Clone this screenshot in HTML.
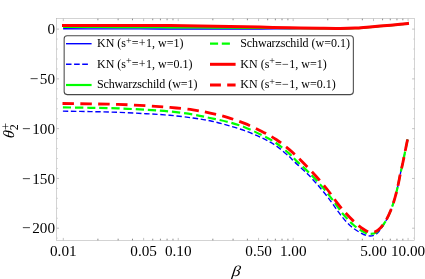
<!DOCTYPE html>
<html><head><meta charset="utf-8"><title>plot</title><style>html,body{margin:0;padding:0;background:#fff}body{width:425px;height:279px;overflow:hidden;font-family:"Liberation Serif",serif}</style></head><body>
<svg width="425" height="279" viewBox="0 0 425 279" style="display:block;will-change:transform;opacity:0.999">
<rect width="425" height="279" fill="#fff"/>
<g fill="none" stroke-linecap="butt" stroke-linejoin="round">
<path d="M63.10 28.80 C69.25 28.81 87.18 28.83 100.00 28.85 C112.82 28.87 128.33 28.88 140.00 28.90 C151.67 28.92 160.00 28.93 170.00 28.95 C180.00 28.97 190.00 28.99 200.00 29.00 C210.00 29.01 220.00 29.00 230.00 29.00 C240.00 29.00 250.00 29.05 260.00 29.00 C270.00 28.95 280.00 28.77 290.00 28.70 C300.00 28.63 311.67 28.60 320.00 28.60 C328.33 28.60 334.17 28.75 340.00 28.70 C345.83 28.65 350.50 28.52 355.00 28.30 C359.50 28.08 362.83 27.73 367.00 27.40 C371.17 27.07 376.07 26.64 380.00 26.30 C383.93 25.96 387.27 25.66 390.60 25.35 C393.93 25.04 397.05 24.75 400.00 24.45 C402.95 24.15 406.92 23.70 408.30 23.55" stroke="#0000ff" stroke-width="1.4"/>
<path d="M62.90 111.10 C67.42 111.18 80.82 111.40 90.00 111.60 C99.18 111.80 108.67 111.95 118.00 112.30 C127.33 112.65 137.33 113.20 146.00 113.70 C154.67 114.20 162.17 114.58 170.00 115.30 C177.83 116.02 186.33 117.08 193.00 118.00 C199.67 118.92 204.33 119.62 210.00 120.80 C215.67 121.98 221.23 123.47 227.00 125.10 C232.77 126.73 238.77 128.45 244.60 130.60 C250.43 132.75 256.77 135.47 262.00 138.00 C267.23 140.53 271.50 142.75 276.00 145.80 C280.50 148.85 285.95 153.67 289.00 156.30 C292.05 158.93 291.02 158.47 294.30 161.60 C297.58 164.73 304.17 170.47 308.70 175.10 C313.23 179.73 317.68 184.87 321.50 189.40 C325.32 193.93 328.48 198.13 331.60 202.30 C334.72 206.47 337.13 210.53 340.20 214.40 C343.27 218.27 346.70 222.48 350.00 225.50 C353.30 228.52 356.83 230.77 360.00 232.50 C363.17 234.23 366.17 235.73 369.00 235.90 C371.83 236.07 374.33 235.73 377.00 233.50 C379.67 231.27 382.68 226.38 385.00 222.50 C387.32 218.62 389.23 214.35 390.90 210.20 C392.57 206.05 393.83 201.63 395.00 197.60 C396.17 193.57 397.03 189.85 397.90 186.00 C398.77 182.15 399.38 178.33 400.20 174.50 C401.02 170.67 401.98 166.83 402.80 163.00 C403.62 159.17 404.30 155.45 405.10 151.50 C405.90 147.55 407.18 141.33 407.60 139.30" stroke="#0000ff" stroke-width="1.4" stroke-dasharray="5.4 2.72"/>
<path d="M63.10 27.00 C69.25 27.00 87.18 26.98 100.00 27.00 C112.82 27.02 128.33 27.05 140.00 27.10 C151.67 27.15 160.00 27.23 170.00 27.30 C180.00 27.37 190.00 27.43 200.00 27.50 C210.00 27.57 220.00 27.63 230.00 27.70 C240.00 27.77 250.00 27.83 260.00 27.90 C270.00 27.97 280.00 28.02 290.00 28.10 C300.00 28.18 311.67 28.32 320.00 28.40 C328.33 28.48 334.17 28.63 340.00 28.60 C345.83 28.57 350.50 28.42 355.00 28.20 C359.50 27.98 362.83 27.63 367.00 27.30 C371.17 26.97 376.07 26.53 380.00 26.20 C383.93 25.87 387.27 25.60 390.60 25.30 C393.93 25.00 397.05 24.70 400.00 24.40 C402.95 24.10 406.92 23.65 408.30 23.50" stroke="#00ff00" stroke-width="2.2"/>
<path d="M62.90 107.40 C67.42 107.47 80.82 107.63 90.00 107.80 C99.18 107.97 108.67 108.07 118.00 108.40 C127.33 108.73 137.33 109.28 146.00 109.80 C154.67 110.32 162.17 110.72 170.00 111.50 C177.83 112.28 186.33 113.42 193.00 114.50 C199.67 115.58 204.33 116.80 210.00 118.00 C215.67 119.20 221.23 120.17 227.00 121.70 C232.77 123.23 238.77 124.95 244.60 127.20 C250.43 129.45 256.77 132.57 262.00 135.20 C267.23 137.83 271.50 139.97 276.00 143.00 C280.50 146.03 285.47 150.30 289.00 153.40 C292.53 156.50 293.45 157.98 297.20 161.60 C300.95 165.22 306.97 170.47 311.50 175.10 C316.03 179.73 320.58 184.87 324.40 189.40 C328.22 193.93 331.30 198.20 334.40 202.30 C337.50 206.40 339.90 210.30 343.00 214.00 C346.10 217.70 349.83 221.67 353.00 224.50 C356.17 227.33 359.25 229.43 362.00 231.00 C364.75 232.57 367.00 233.77 369.50 233.90 C372.00 234.03 374.38 233.82 377.00 231.80 C379.62 229.78 382.88 225.43 385.20 221.80 C387.52 218.17 389.27 214.03 390.90 210.00 C392.53 205.97 393.83 201.60 395.00 197.60 C396.17 193.60 397.03 189.85 397.90 186.00 C398.77 182.15 399.38 178.33 400.20 174.50 C401.02 170.67 401.98 166.83 402.80 163.00 C403.62 159.17 404.30 155.45 405.10 151.50 C405.90 147.55 407.18 141.33 407.60 139.30" stroke="#00ff00" stroke-width="2.2" stroke-dasharray="8.28 3.847"/>
<path d="M62.00 25.50 C68.33 25.48 87.00 25.42 100.00 25.40 C113.00 25.38 128.33 25.37 140.00 25.40 C151.67 25.43 160.00 25.50 170.00 25.60 C180.00 25.70 190.00 25.85 200.00 26.00 C210.00 26.15 220.00 26.32 230.00 26.50 C240.00 26.68 250.00 26.88 260.00 27.10 C270.00 27.32 280.00 27.60 290.00 27.80 C300.00 28.00 311.67 28.18 320.00 28.30 C328.33 28.42 334.17 28.53 340.00 28.50 C345.83 28.47 350.50 28.32 355.00 28.10 C359.50 27.88 362.83 27.53 367.00 27.20 C371.17 26.87 376.07 26.43 380.00 26.10 C383.93 25.78 387.27 25.54 390.60 25.25 C393.93 24.96 396.93 24.68 400.00 24.35 C403.07 24.03 407.50 23.48 409.00 23.30" stroke="#ff0000" stroke-width="3.0"/>
<path d="M62.50 103.50 C67.08 103.57 80.75 103.75 90.00 103.90 C99.25 104.05 108.67 104.10 118.00 104.40 C127.33 104.70 137.33 105.20 146.00 105.70 C154.67 106.20 162.17 106.70 170.00 107.40 C177.83 108.10 186.30 108.95 193.00 109.90 C199.70 110.85 204.47 111.85 210.20 113.10 C215.93 114.35 221.67 115.68 227.40 117.40 C233.13 119.12 238.85 121.07 244.60 123.40 C250.35 125.73 256.63 128.72 261.90 131.40 C267.17 134.08 271.67 136.50 276.20 139.50 C280.73 142.50 284.88 145.82 289.10 149.40 C293.32 152.98 297.05 156.57 301.50 161.00 C305.95 165.43 311.50 171.25 315.80 176.00 C320.10 180.75 323.93 185.28 327.30 189.50 C330.67 193.72 333.05 197.50 336.00 201.30 C338.95 205.10 341.83 208.77 345.00 212.30 C348.17 215.83 351.88 219.67 355.00 222.50 C358.12 225.33 361.07 227.63 363.70 229.30 C366.33 230.97 368.42 232.35 370.80 232.50 C373.18 232.65 375.60 232.02 378.00 230.20 C380.40 228.38 383.05 224.97 385.20 221.60 C387.35 218.23 389.27 214.00 390.90 210.00 C392.53 206.00 393.83 201.60 395.00 197.60 C396.17 193.60 397.03 189.85 397.90 186.00 C398.77 182.15 399.38 178.33 400.20 174.50 C401.02 170.67 401.98 166.83 402.80 163.00 C403.62 159.17 404.30 155.45 405.10 151.50 C405.90 147.55 407.18 141.33 407.60 139.30" stroke="#ff0000" stroke-width="2.8" stroke-dasharray="11.5 6.35"/>
</g>
<rect x="56.6" y="18.7" width="357.9" height="221.6" fill="none" stroke="#b0b0b0" stroke-width="0.55"/>
<path d="M63.30 240.3 v-2.4 M63.30 18.7 v2.4" stroke="#999" stroke-width="0.6"/>
<path d="M97.90 240.3 v-1.6 M97.90 18.7 v1.6" stroke="#4c4c4c" stroke-width="0.65"/>
<path d="M118.14 240.3 v-1.6 M118.14 18.7 v1.6" stroke="#4c4c4c" stroke-width="0.65"/>
<path d="M132.49 240.3 v-1.6 M132.49 18.7 v1.6" stroke="#4c4c4c" stroke-width="0.65"/>
<path d="M143.63 240.3 v-2.4 M143.63 18.7 v2.4" stroke="#999" stroke-width="0.6"/>
<path d="M152.73 240.3 v-1.6 M152.73 18.7 v1.6" stroke="#4c4c4c" stroke-width="0.65"/>
<path d="M160.43 240.3 v-1.6 M160.43 18.7 v1.6" stroke="#4c4c4c" stroke-width="0.65"/>
<path d="M167.09 240.3 v-1.6 M167.09 18.7 v1.6" stroke="#4c4c4c" stroke-width="0.65"/>
<path d="M172.97 240.3 v-1.6 M172.97 18.7 v1.6" stroke="#4c4c4c" stroke-width="0.65"/>
<path d="M178.23 240.3 v-2.4 M178.23 18.7 v2.4" stroke="#999" stroke-width="0.6"/>
<path d="M212.83 240.3 v-1.6 M212.83 18.7 v1.6" stroke="#4c4c4c" stroke-width="0.65"/>
<path d="M233.07 240.3 v-1.6 M233.07 18.7 v1.6" stroke="#4c4c4c" stroke-width="0.65"/>
<path d="M247.42 240.3 v-1.6 M247.42 18.7 v1.6" stroke="#4c4c4c" stroke-width="0.65"/>
<path d="M258.56 240.3 v-2.4 M258.56 18.7 v2.4" stroke="#999" stroke-width="0.6"/>
<path d="M267.66 240.3 v-1.6 M267.66 18.7 v1.6" stroke="#4c4c4c" stroke-width="0.65"/>
<path d="M275.36 240.3 v-1.6 M275.36 18.7 v1.6" stroke="#4c4c4c" stroke-width="0.65"/>
<path d="M282.02 240.3 v-1.6 M282.02 18.7 v1.6" stroke="#4c4c4c" stroke-width="0.65"/>
<path d="M287.90 240.3 v-1.6 M287.90 18.7 v1.6" stroke="#4c4c4c" stroke-width="0.65"/>
<path d="M293.16 240.3 v-2.4 M293.16 18.7 v2.4" stroke="#999" stroke-width="0.6"/>
<path d="M327.76 240.3 v-1.6 M327.76 18.7 v1.6" stroke="#4c4c4c" stroke-width="0.65"/>
<path d="M348.00 240.3 v-1.6 M348.00 18.7 v1.6" stroke="#4c4c4c" stroke-width="0.65"/>
<path d="M362.35 240.3 v-1.6 M362.35 18.7 v1.6" stroke="#4c4c4c" stroke-width="0.65"/>
<path d="M373.49 240.3 v-2.4 M373.49 18.7 v2.4" stroke="#999" stroke-width="0.6"/>
<path d="M382.59 240.3 v-1.6 M382.59 18.7 v1.6" stroke="#4c4c4c" stroke-width="0.65"/>
<path d="M390.29 240.3 v-1.6 M390.29 18.7 v1.6" stroke="#4c4c4c" stroke-width="0.65"/>
<path d="M396.95 240.3 v-1.6 M396.95 18.7 v1.6" stroke="#4c4c4c" stroke-width="0.65"/>
<path d="M402.83 240.3 v-1.6 M402.83 18.7 v1.6" stroke="#4c4c4c" stroke-width="0.65"/>
<path d="M408.09 240.3 v-2.4 M408.09 18.7 v2.4" stroke="#999" stroke-width="0.6"/>
<path d="M56.6 238.16 h1.3 M414.5 238.16 h-1.3" stroke="#bbb" stroke-width="0.6"/>
<path d="M56.6 228.20 h2.4 M414.5 228.20 h-2.4" stroke="#999" stroke-width="0.6"/>
<path d="M56.6 218.25 h1.3 M414.5 218.25 h-1.3" stroke="#bbb" stroke-width="0.6"/>
<path d="M56.6 208.29 h1.3 M414.5 208.29 h-1.3" stroke="#bbb" stroke-width="0.6"/>
<path d="M56.6 198.34 h1.3 M414.5 198.34 h-1.3" stroke="#bbb" stroke-width="0.6"/>
<path d="M56.6 188.38 h1.3 M414.5 188.38 h-1.3" stroke="#bbb" stroke-width="0.6"/>
<path d="M56.6 178.43 h2.4 M414.5 178.43 h-2.4" stroke="#999" stroke-width="0.6"/>
<path d="M56.6 168.47 h1.3 M414.5 168.47 h-1.3" stroke="#bbb" stroke-width="0.6"/>
<path d="M56.6 158.52 h1.3 M414.5 158.52 h-1.3" stroke="#bbb" stroke-width="0.6"/>
<path d="M56.6 148.56 h1.3 M414.5 148.56 h-1.3" stroke="#bbb" stroke-width="0.6"/>
<path d="M56.6 138.61 h1.3 M414.5 138.61 h-1.3" stroke="#bbb" stroke-width="0.6"/>
<path d="M56.6 128.65 h2.4 M414.5 128.65 h-2.4" stroke="#999" stroke-width="0.6"/>
<path d="M56.6 118.69 h1.3 M414.5 118.69 h-1.3" stroke="#bbb" stroke-width="0.6"/>
<path d="M56.6 108.74 h1.3 M414.5 108.74 h-1.3" stroke="#bbb" stroke-width="0.6"/>
<path d="M56.6 98.78 h1.3 M414.5 98.78 h-1.3" stroke="#bbb" stroke-width="0.6"/>
<path d="M56.6 88.83 h1.3 M414.5 88.83 h-1.3" stroke="#bbb" stroke-width="0.6"/>
<path d="M56.6 78.88 h2.4 M414.5 78.88 h-2.4" stroke="#999" stroke-width="0.6"/>
<path d="M56.6 68.92 h1.3 M414.5 68.92 h-1.3" stroke="#bbb" stroke-width="0.6"/>
<path d="M56.6 58.97 h1.3 M414.5 58.97 h-1.3" stroke="#bbb" stroke-width="0.6"/>
<path d="M56.6 49.01 h1.3 M414.5 49.01 h-1.3" stroke="#bbb" stroke-width="0.6"/>
<path d="M56.6 39.05 h1.3 M414.5 39.05 h-1.3" stroke="#bbb" stroke-width="0.6"/>
<path d="M56.6 29.10 h2.4 M414.5 29.10 h-2.4" stroke="#999" stroke-width="0.6"/>
<g font-family="'Liberation Serif', serif" font-size="15.2px" fill="#000">
<text x="63.3" y="255.6" text-anchor="middle">0.01</text>
<text x="143.6" y="255.6" text-anchor="middle">0.05</text>
<text x="178.2" y="255.6" text-anchor="middle">0.10</text>
<text x="258.6" y="255.6" text-anchor="middle">0.50</text>
<text x="293.2" y="255.6" text-anchor="middle">1.00</text>
<text x="373.5" y="255.6" text-anchor="middle">5.00</text>
<text x="408.1" y="255.6" text-anchor="middle">10.00</text>
<text x="55.0" y="34.2" text-anchor="end">0</text>
<text x="55.0" y="84.0" text-anchor="end">−<tspan dx="1.6">50</tspan></text>
<text x="55.0" y="133.8" text-anchor="end">−<tspan dx="1.6">100</tspan></text>
<text x="55.0" y="183.5" text-anchor="end">−<tspan dx="1.6">150</tspan></text>
<text x="55.0" y="233.3" text-anchor="end">−<tspan dx="1.6">200</tspan></text>
</g>
<text transform="translate(231.5,275.5) skewX(-7) scale(1.15,1)" x="0" y="0" font-family="'Liberation Serif', serif" font-style="italic" font-size="15px">β</text>
<g transform="translate(13.5,138) rotate(-90)" font-family="'Liberation Serif', serif" fill="#000"><text transform="translate(-0.5,0.6) skewX(-6)" x="0" y="0" font-style="italic" font-size="15.7px">θ</text><text x="7.65" y="4.85" font-size="12px">2</text><text x="8.05" y="-3.5" font-size="12.5px">+</text></g>
<rect x="64.15" y="35.7" width="289.2" height="58.9" rx="3" ry="3" fill="#fff" stroke="#484848" stroke-width="1.05"/>
<g fill="none">
<path d="M66 43.7 H91.6" stroke="#0000ff" stroke-width="1.4"/>
<path d="M66 64.3 h5.5 m2.6 0 h5.6 m2.5 0 h5.7" stroke="#0000ff" stroke-width="1.4"/>
<path d="M66 85.0 H91.6" stroke="#00ff00" stroke-width="2.2"/>
<path d="M210 43.7 h8.1 m3.7 0 h8.1" stroke="#00ff00" stroke-width="2.2"/>
<path d="M210 64.3 H235.6" stroke="#ff0000" stroke-width="3.0"/>
<path d="M210 85.0 h10.9 m6.3 0 h8.4" stroke="#ff0000" stroke-width="2.8"/>
</g>
<g font-family="'Liberation Serif', serif" font-size="12px" fill="#000">
<text x="97" y="47.3">KN (s<tspan dy="-3.7" font-size="10px">+</tspan><tspan dy="3.7"><tspan letter-spacing="0.4">=+</tspan>1, w=1)</tspan></text>
<text x="240.3" y="47.3"><tspan letter-spacing="-0.14">Schwarzschild</tspan> (w=0.1)</text>
<text x="97" y="67.8">KN (s<tspan dy="-3.7" font-size="10px">+</tspan><tspan dy="3.7"><tspan letter-spacing="0.4">=+</tspan>1, w=0.1)</tspan></text>
<text x="240.3" y="67.8">KN (s<tspan dy="-3.7" font-size="10px">+</tspan><tspan dy="3.7"><tspan letter-spacing="0.4">=−</tspan>1, w=1)</tspan></text>
<text x="97" y="88.4"><tspan letter-spacing="-0.14">Schwarzschild</tspan> (w=1)</text>
<text x="240.3" y="88.4">KN (s<tspan dy="-3.7" font-size="10px">+</tspan><tspan dy="3.7"><tspan letter-spacing="0.4">=−</tspan>1, w=0.1)</tspan></text>
</g>
</svg>
</body></html>
